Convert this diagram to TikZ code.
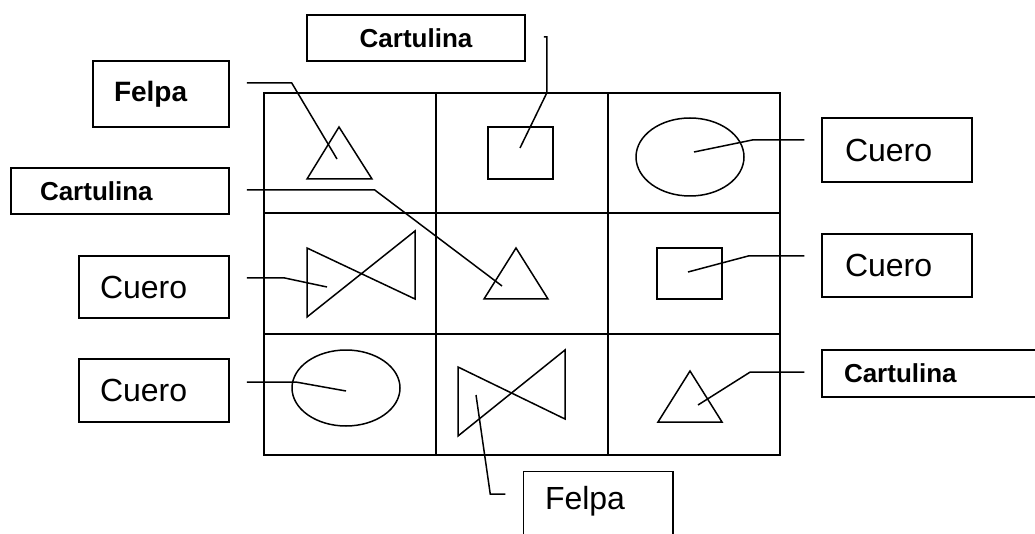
\documentclass[tikz,border=0pt]{standalone}
\usepackage{fontspec}
\setmainfont{Liberation Sans}
\newcommand\txtreg{\fontsize{32}{38}\selectfont}
\newcommand\txtbold{\fontsize{26}{31}\selectfont\bfseries}
\newcommand\txtbig{\fontsize{28}{33}\selectfont\bfseries}
\tikzset{
 grid line/.style={line width=2pt},
 figure/.style={line width=1.5pt},
 wire/.style={line width=1.5pt},
 tag/.style={draw, line width=1.5pt, inner ysep=0pt, align=left},
}

\begin{document}
\begin{tikzpicture}[x=1pt, y=-1pt]
\useasboundingbox (0,0) rectangle (1035,534);
\clip (0,0) rectangle (1035,534);
% board
\draw[grid line] (264,93) rectangle (780,455);
\foreach \x in {436,608} \draw[grid line] (\x,93) -- (\x,455);
\foreach \y in {213,334} \draw[grid line] (264,\y) -- (780,\y);
% figures
\draw[figure] (339,127) -- (372,179) -- (307,179) -- cycle;
\draw[figure] (488,127) rectangle (553,179);
\draw[figure] (690,157) ellipse [x radius=54, y radius=39];
\draw[figure] (307,248) -- (415,299) -- (415,231) -- (307,317) -- cycle;
\draw[figure] (516,248) -- (548,299) -- (484,299) -- cycle;
\draw[figure] (657,248) rectangle (722,299);
\draw[figure] (346,388) ellipse [x radius=54, y radius=38];
\draw[figure] (458,367) -- (565,419) -- (565,350) -- (458,436) -- cycle;
\draw[figure] (690,371) -- (722,422) -- (658,422) -- cycle;
% pointer tips
\coordinate (tipTri1) at (337,159);
\coordinate (tipSq1) at (520,148);
\coordinate (tipEll1) at (694,152);
\coordinate (tipBow1) at (327,287);
\coordinate (tipTri2) at (502,286);
\coordinate (tipSq2) at (688,272);
\coordinate (tipEll2) at (346,391);
\coordinate (tipBow2) at (476,395);
\coordinate (tipTri3) at (698,405);
% labels
\node[tag, inner xsep=0pt, text width=218pt, align=center, minimum height=46pt, font=\txtbold] (cartTop) at (416,38) {Cartulina};
\node[tag, inner xsep=21pt, text width=94pt, minimum height=66pt, font=\txtbig] (felpaTop) at (161,94) {Felpa};
\node[tag, inner xsep=29pt, text width=160pt, minimum height=46pt, font=\txtbold] (cartLeft) at (120,191) {Cartulina};
\node[tag, inner xsep=21pt, text width=108pt, minimum height=62pt, font=\txtreg] (cueroL1) at (154,287) {Cuero};
\node[tag, inner xsep=21pt, text width=108pt, minimum height=63pt, font=\txtreg] (cueroL2) at (154,390.5) {Cuero};
\node[tag, inner xsep=23pt, text width=104pt, minimum height=64pt, font=\txtreg] (cueroR1) at (897,150) {Cuero};
\node[tag, inner xsep=23pt, text width=104pt, minimum height=63pt, font=\txtreg] (cueroR2) at (897,265.5) {Cuero};
\node[tag, inner xsep=22pt, text width=216pt, minimum height=47pt, font=\txtbold] (cartRight) at (952,373.5) {Cartulina};
\node[tag, draw=none, inner xsep=21pt, text width=106pt, minimum height=58pt, font=\txtreg] (felpaBot) at (598,501) {Felpa};
\draw[line width=1.5pt] ([yshift=-20pt]felpaBot.south west) -- (felpaBot.north west) -- (felpaBot.north east) -- ++(0,80);
% pointers
\draw[wire] ([xshift=18pt,yshift=1pt]cartTop.east) -- ++(3,0) -- ++(0,56) -- (tipSq1);
\draw[wire] ([xshift=17pt,yshift=11pt]felpaTop.east) -- ++(45,0) -- (tipTri1);
\draw[wire] ([xshift=17pt,yshift=1pt]cartLeft.east) -- ++(128,0) -- (tipTri2);
\draw[wire] ([xshift=17pt,yshift=9pt]cueroL1.east) -- ++(38,0) -- (tipBow1);
\draw[wire] ([xshift=17pt,yshift=8.5pt]cueroL2.east) -- ++(49,0) -- (tipEll2);
\draw[wire] ([xshift=-17pt,yshift=10pt]cueroR1.west) -- ++(-52,0) -- (tipEll1);
\draw[wire] ([xshift=-17pt,yshift=9.5pt]cueroR2.west) -- ++(-56,0) -- (tipSq2);
\draw[wire] ([xshift=-17pt,yshift=1.5pt]cartRight.west) -- ++(-54,0) -- (tipTri3);
\draw[wire] ([xshift=-18pt,yshift=7pt]felpaBot.west) -- ++(-15,0) -- (tipBow2);
\end{tikzpicture}
\end{document}
